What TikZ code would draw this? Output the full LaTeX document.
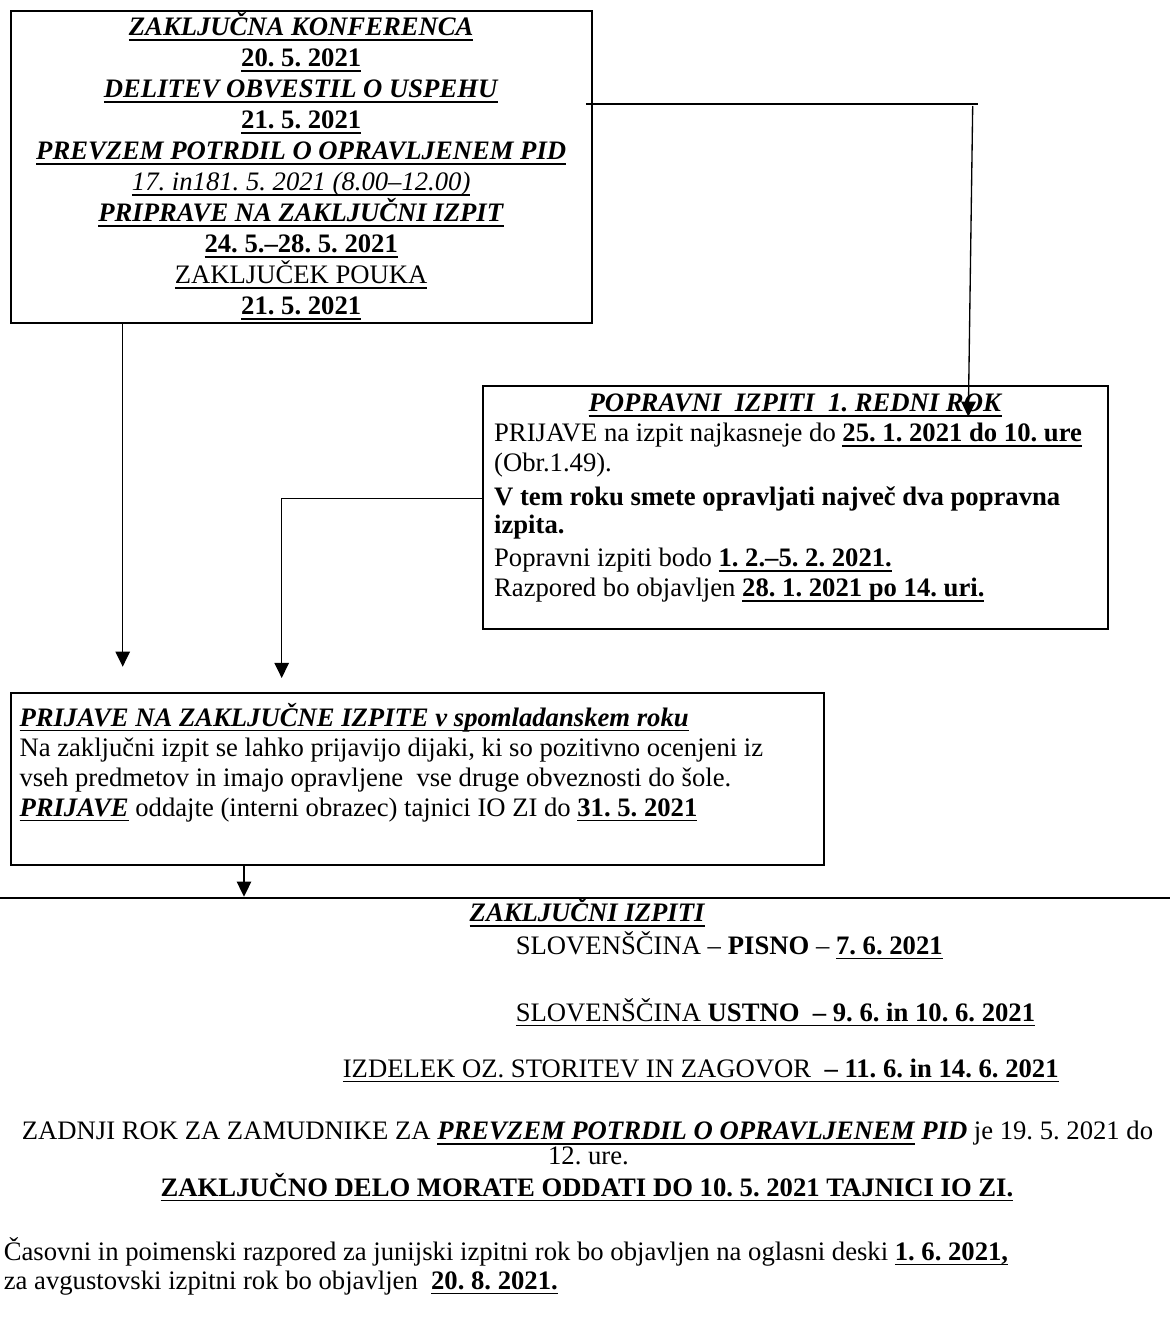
\documentclass[tikz,border=0pt]{standalone}
\usepackage{fontspec}
\setmainfont{Liberation Serif}
\usetikzlibrary{arrows.meta}
\frenchspacing
\newsavebox{\ulbox}
\newcommand{\ulin}[1]{{\sbox{\ulbox}{#1}\rlap{\rule[-2.4pt]{\wd\ulbox}{0.8pt}}\usebox{\ulbox}}}
\newcommand{\bi}[1]{\textbf{\textit{#1}}}
\tikzset{every picture/.style={line width=0.75pt}}

\begin{document}
\begin{tikzpicture}[x=0.45pt,y=0.45pt,yscale=-1,xscale=1,
  frame/.style={draw, rectangle, inner sep=0pt, line width=0.85pt},
  txt/.style={inner sep=0pt, font=\fontsize{12pt}{13.8pt}\selectfont\frenchspacing},
  arr/.style={line width=0.6pt, -{Triangle[width=6.5pt,length=6.8pt]}}]
%uncomment if require: \path (0,1325); %set diagram left start at 0, and has height of 1325
\useasboundingbox (0,0) rectangle (1170,1325);

%Shape: Rectangle [konf]
\draw (301.2,166.9) node [frame, minimum width=261.45pt, minimum height=140.3pt] (konf) {};
%Shape: Rectangle [popr]
\draw (795.8,507.8) node [frame, minimum width=281.25pt, minimum height=109.35pt] (popr) {};
%Shape: Rectangle [prij]
\draw (417.3,779.2) node [frame, minimum width=366pt, minimum height=77.5pt] (prij) {};

\coordinate (c2) at (977.7,104);
\coordinate (c3) at (972.7,106);
\coordinate (c4) at (968.3,416.7);
\coordinate (a1) at (122.7,666.7);
\coordinate (b1) at (281.7,498.3);
\coordinate (b2) at (281.7,678);
\coordinate (d1) at (244,896.7);
\coordinate (l1) at (0,898);
\coordinate (l2) at (1170,898);

%Straight Lines
\draw ([xshift=-3pt]konf.east |- c2) -- (c2) ;
%Straight Lines
\draw [arr] (c3) -- (c4) ;
%Straight Lines
\draw [arr] (a1 |- konf.south) -- (a1) ;
%Straight Lines
\draw [arr] (popr.west |- b1) -- (b1) -- (b2) ;
%Straight Lines
\draw [arr] (d1 |- prij.south) -- (d1) ;
%Straight Lines
\draw (l1) -- (l2) ;

% Text Node
\draw (301.2,35.5) node [anchor=base][txt] (k1) {\ulin{\bi{ZAKLJUČNA KONFERENCA}}};
% Text Node
\draw (301.2,66.5) node [anchor=base][txt] (k2) {\ulin{\textbf{20. 5. 2021}}};
% Text Node
\draw (301.2,97.5) node [anchor=base][txt] (k3) {\ulin{\bi{DELITEV OBVESTIL O USPEHU}}};
% Text Node
\draw (301.2,128.5) node [anchor=base][txt] (k4) {\ulin{\textbf{21. 5. 2021}}};
% Text Node
\draw (301.2,159.5) node [anchor=base][txt] (k5) {\ulin{\bi{PREVZEM POTRDIL O OPRAVLJENEM PID}}};
% Text Node
\draw (301.2,190.5) node [anchor=base][txt] (k6) {\ulin{\textit{17. in181. 5. 2021 (8.00–12.00)}}};
% Text Node
\draw (301.2,221.5) node [anchor=base][txt] (k7) {\ulin{\bi{PRIPRAVE NA ZAKLJUČNI IZPIT}}};
% Text Node
\draw (301.2,252.5) node [anchor=base][txt] (k8) {\ulin{\textbf{24. 5.–28. 5. 2021}}};
% Text Node
\draw (301.2,283.5) node [anchor=base][txt] (k9) {\ulin{ZAKLJUČEK POUKA}};
% Text Node
\draw (301.2,314.5) node [anchor=base][txt] (k10) {\ulin{\textbf{21. 5. 2021}}};

% Text Node
\draw (795.5,411.7) node [anchor=base][txt] (p1) {\ulin{\bi{POPRAVNI\ \ IZPITI\ \ 1. REDNI ROK}}};
% Text Node
\draw (493.3,441.7) node [anchor=base west][txt] (p2) {PRIJAVE na izpit najkasneje do \ulin{\textbf{25. 1. 2021 do 10. ure}}};
% Text Node
\draw (493.3,471.7) node [anchor=base west][txt] (p3) {(Obr.1.49).};
% Text Node
\draw (493.3,505) node [anchor=base west][txt] (p4) {\textbf{V tem roku smete opravljati največ dva popravna}};
% Text Node
\draw (493.3,533) node [anchor=base west][txt] (p5) {\textbf{izpita.}};
% Text Node
\draw (493.3,566.7) node [anchor=base west][txt] (p6) {Popravni izpiti bodo \ulin{\textbf{1. 2.–5. 2. 2021.}}};
% Text Node
\draw (493.3,596.7) node [anchor=base west][txt] (p7) {Razpored bo objavljen \ulin{\textbf{28. 1. 2021 po 14. uri.}}};

% Text Node
\draw (18.7,726) node [anchor=base west][txt] (r1) {\ulin{\bi{PRIJAVE NA ZAKLJUČNE IZPITE v spomladanskem roku}}};
% Text Node
\draw (18.7,756) node [anchor=base west][txt] (r2) {Na zaključni izpit se lahko prijavijo dijaki, ki so pozitivno ocenjeni iz};
% Text Node
\draw (18.7,786.7) node [anchor=base west][txt] (r3) {vseh predmetov in imajo opravljene\ \ vse druge obveznosti do šole.};
% Text Node
\draw (18.7,816) node [anchor=base west][txt] (r4) {\ulin{\bi{PRIJAVE}} oddajte (interni obrazec) tajnici IO ZI do \ulin{\textbf{31. 5. 2021}}};

% Text Node
\draw (587.5,921.7) node [anchor=base][txt] (z1) {\ulin{\bi{ZAKLJUČNI IZPITI}}};
% Text Node
\draw (515,954) node [anchor=base west][txt] (z2) {SLOVENŠČINA – \textbf{PISNO} – \ulin{\textbf{7. 6. 2021}}};
% Text Node
\draw (515,1021) node [anchor=base west][txt] (z3) {\ulin{SLOVENŠČINA \textbf{USTNO\ \ – 9. 6. in 10. 6. 2021}}};
% Text Node
\draw (342,1077) node [anchor=base west][txt] (z4) {\ulin{IZDELEK OZ. STORITEV IN ZAGOVOR\ \ \textbf{– 11. 6. in 14. 6. 2021}}};
% Text Node
\draw (587.5,1139.5) node [anchor=base][txt] (z5) {ZADNJI ROK ZA ZAMUDNIKE ZA \bi{\ulin{PREVZEM POTRDIL O OPRAVLJENEM} PID} je 19. 5. 2021 do};
% Text Node
\draw (588.5,1164) node [anchor=base][txt] (z6) {12. ure.};
% Text Node
\draw (587,1196) node [anchor=base][txt] (z7) {\ulin{\textbf{ZAKLJUČNO DELO MORATE ODDATI DO 10. 5. 2021 TAJNICI IO ZI.}}};
% Text Node
\draw (3,1260) node [anchor=base west][txt] (z8) {Časovni in poimenski razpored za junijski izpitni rok bo objavljen na oglasni deski \ulin{\textbf{1. 6. 2021,}}};
% Text Node
\draw (3,1289) node [anchor=base west][txt] (z9) {za avgustovski izpitni rok bo objavljen\ \ \ulin{\textbf{20. 8. 2021.}}};

\end{tikzpicture}
\end{document}
